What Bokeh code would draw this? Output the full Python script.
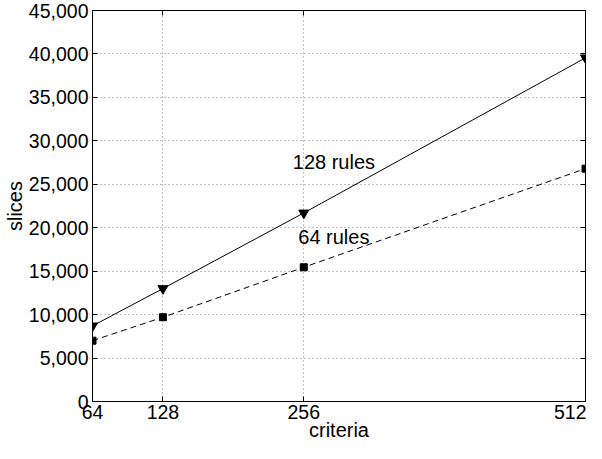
from bokeh.plotting import figure
from bokeh.models import LinearAxis, FixedTicker, NumeralTickFormatter, Range1d, Label
from bokeh.embed import file_html
from bokeh.resources import INLINE

criteria = [64, 128, 256, 512]
slices_128 = [8700, 13000, 21700, 39550]
slices_64 = [7000, 9700, 15450, 26800]
x_ticks = [64, 128, 256, 512]
y_ticks = list(range(0, 45001, 5000))

FONT = "Liberation Sans"
TICK_SIZE = "19.5px"
LABEL_SIZE = "20px"

p = figure(width=586, height=443, output_backend="svg", toolbar_location=None,
           x_range=Range1d(64, 512), y_range=Range1d(0, 45000),
           min_border_left=87, min_border_right=1, min_border_top=10, min_border_bottom=40,
           x_axis_label="criteria", y_axis_label="slices")

p.outline_line_color = "black"
p.outline_line_width = 1
p.background_fill_color = "white"
p.border_fill_color = "white"

for ax in (p.xaxis[0], p.yaxis[0]):
    ax.major_label_text_font = FONT
    ax.major_label_text_font_size = TICK_SIZE
    ax.axis_label_text_font = FONT
    ax.axis_label_text_font_size = LABEL_SIZE
    ax.axis_label_text_font_style = "normal"
    ax.axis_label_text_color = "black"
    ax.major_label_text_color = "black"
    ax.axis_line_color = "black"
    ax.major_tick_line_color = "black"
    ax.major_tick_in = 5
    ax.major_tick_out = 0
    ax.minor_tick_line_color = None

p.xaxis[0].ticker = FixedTicker(ticks=x_ticks)
p.yaxis[0].ticker = FixedTicker(ticks=y_ticks)
p.yaxis[0].formatter = NumeralTickFormatter(format="0,0")
p.xaxis[0].major_label_standoff = 3
p.yaxis[0].major_label_standoff = 4
p.xaxis[0].axis_label_standoff = -3
p.yaxis[0].axis_label_standoff = 0

for loc, ticks in (("right", y_ticks), ("above", x_ticks)):
    ax = LinearAxis(ticker=FixedTicker(ticks=ticks))
    ax.major_label_text_color = None
    ax.major_label_text_font_size = "0px"
    ax.major_label_standoff = 0
    ax.major_tick_in = 5
    ax.major_tick_out = 0
    ax.minor_tick_line_color = None
    ax.axis_line_color = "black"
    ax.major_tick_line_color = "black"
    p.add_layout(ax, loc)

p.xgrid.ticker = FixedTicker(ticks=x_ticks)
p.ygrid.ticker = FixedTicker(ticks=y_ticks)
for g in (p.xgrid, p.ygrid):
    g.grid_line_color = "#808080"
    g.grid_line_dash = "1 3"
    g.grid_line_width = 1

p.line(criteria, slices_128, line_color="black", line_width=1)
p.scatter(criteria, slices_128, marker="inverted_triangle", size=10,
          fill_color="black", line_color="black")
p.line(criteria, slices_64, line_color="black", line_width=1, line_dash="6 4")
p.scatter(criteria, slices_64, marker="square", size=7,
          fill_color="black", line_color="black")

p.add_layout(Label(x=246, y=27560, text="128 rules", text_font=FONT,
                   text_font_size="20px", text_baseline="middle", text_color="black"))
p.add_layout(Label(x=251, y=18930, text="64 rules", text_font=FONT,
                   text_font_size="20px", text_baseline="middle", text_color="black"))

open("out.html", "w").write(file_html(p, INLINE))
